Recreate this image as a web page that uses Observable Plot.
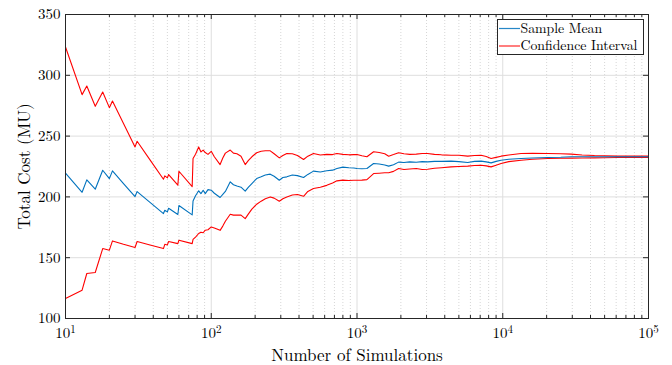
<!DOCTYPE html>
<html><head><meta charset="utf-8">
<script src="https://cdn.jsdelivr.net/npm/d3@7"></script>
<script src="https://cdn.jsdelivr.net/npm/@observablehq/plot@0.6"></script>
<style>
body{margin:0;background:#fff;}
#wrap{position:relative;width:672px;height:365px;color:#000;}
#legend{position:absolute;left:497px;top:16px;overflow:visible;}
</style></head>
<body><div id="wrap"></div>
<script>
const nSim = [10,13,14,16,18,20,21,25,30,31,38,47,48,50,51,59,60,74,75,78,82,85,88,91,95,100,105,115,120,125,135,142,150,160,171,180,190,205,220,235,254,270,293,310,330,360,390,430,460,503,560,620,680,728,800,880,950,1000,1080,1170,1300,1420,1550,1650,1780,1930,2100,2300,2550,2800,3050,3400,3800,4420,5000,5750,6400,7100,7700,8320,9000,9740,11000,13360,16000,20360,25000,29440,35000,42550,50000,61500,75000,88000,100000];
const sampleMean = [219.5,203.8,214,206.3,221.9,215,221.4,211,200.3,204.4,195.5,186.3,189,187.7,190.7,185.5,192.9,185.2,196.7,201,205,202.7,205.5,202.7,206,205.5,203,199.5,202,204.5,212.4,210,209,208,204.7,208,211,215.1,216.5,218,218.7,217,213.7,216,216.5,218,217.5,215.9,218.5,221.2,220.5,221.5,222,223.4,224.5,224,223.8,223.4,223.2,223.4,227.5,227,226.3,225.3,226.5,228.6,228.3,228.8,228.5,229,228.8,229.2,229.2,229.4,229,228.3,229.2,229.4,228.8,228,229.2,230.2,231,231.6,232,232.4,232.6,233,233,233,233,233,233,233,233];
const ciUpper = [323.3,284.1,291.2,274.5,286.3,273.4,278.9,260.4,241.1,245.8,230.5,214.5,217.3,215.6,218.4,209.6,221.1,208.5,231.5,235,241.1,237,238.5,236.5,235,237.5,233,226.6,232,236,238.5,236,235.5,233.5,226.6,230,233,236.3,237.5,238,237.9,235.5,232.1,234,235.7,235.5,234,230.8,233.5,235.7,234.5,235,234.8,235.7,235,234.6,234.8,234.9,233.8,233,237.1,236.5,235.5,233.5,234.8,236.3,235.5,235,235.2,235.7,235.7,235,234.6,234.3,234.2,233.5,234,234.3,233.2,231.6,232.5,233.5,234.5,235.7,235.8,235.7,235.5,235.2,234.5,234,233.8,233.5,233.5,233.5,233.5];
const ciLower = [116.4,123.3,137,137.8,157.5,156.2,163.8,161,158.4,163.3,160.5,157.5,161,160.5,163.3,161.6,164.4,161.6,165,167,169.9,171,170.5,172.6,173,175.3,174.5,172.5,176,180,185.7,185,185,185,182.1,186,190,194,196.5,198.5,200,199,196.4,198.5,200,201.5,202,200.5,204.5,206.9,208,209.5,211.5,213.2,213.8,213.5,213.7,213.7,213.8,214.2,219.2,219.5,219.8,219.8,221,223.4,222.5,223,223.3,222.5,222.8,223.5,224,224.7,225,225.3,225.8,226,225.5,224.7,226,227.5,229,230.2,231,231.6,231.8,231.9,232,232.1,232.2,232.4,232.4,232.4,232.4];

const xMajor = [10,100,1000,10000,100000];
const xTickLabels = ["10^1","10^2","10^3","10^4","10^5"];
const yTicks = [100,150,200,250,300,350];
const xMinor = [];
for (const d of [10,100,1000,10000]) for (let k = 2; k <= 9; k++) xMinor.push(k*d);
const legendNames = ["Sample Mean","Confidence Interval"];
const legendColors = ["#0072bd","#ff0000"];

const data = nSim.map((n,i)=>({n, mean:sampleMean[i], upper:ciUpper[i], lower:ciLower[i]}));

const W=672,H=365,mL=65,mR=24,mT=14,mB=47;
const ph = H-mT-mB;
const axisCol = "#262626";
const serif = "'Latin Modern Roman', 'Liberation Serif', serif";

const chart = Plot.plot({
  width:W, height:H, marginLeft:mL, marginRight:mR, marginTop:mT, marginBottom:mB,
  style:{fontFamily:serif, fontSize:"15px", color:"#000", background:"#fff"},
  x:{type:"log", domain:[10,1e5]},
  y:{domain:[100,350]},
  marks:[
    Plot.gridX(xMinor,{stroke:"#d6d6d6", strokeOpacity:1, strokeDasharray:"1,2"}),
    Plot.gridX(xMajor,{stroke:"#dedede", strokeOpacity:1}),
    Plot.gridY(yTicks,{stroke:"#dedede", strokeOpacity:1}),
    Plot.line(data,{x:"n", y:"upper", stroke:legendColors[1], strokeWidth:1.1}),
    Plot.line(data,{x:"n", y:"lower", stroke:legendColors[1], strokeWidth:1.1}),
    Plot.line(data,{x:"n", y:"mean", stroke:legendColors[0], strokeWidth:1.1}),
    Plot.tickX(xMajor,{x:d=>d, stroke:axisCol, insetTop:ph-5}),
    Plot.tickX(xMajor,{x:d=>d, stroke:axisCol, insetBottom:ph-5}),
    Plot.tickX(xMinor,{x:d=>d, stroke:axisCol, insetTop:ph-3}),
    Plot.tickX(xMinor,{x:d=>d, stroke:axisCol, insetBottom:ph-3}),
    Plot.tickY(yTicks,{y:d=>d, stroke:axisCol, insetRight:(W-mL-mR)-5}),
    Plot.tickY(yTicks,{y:d=>d, stroke:axisCol, insetLeft:(W-mL-mR)-5}),
    Plot.axisX(xMajor,{anchor:"bottom", tickSize:0, tickPadding:9, tickFormat:(d)=>xTickLabels[xMajor.indexOf(d)], fontSize:15, label:"Number of Simulations", labelAnchor:"center", labelArrow:"none", labelOffset:42}),
    Plot.axisY(yTicks,{anchor:"left", tickSize:0, tickPadding:5, fontSize:15, label:"Total Cost (MU)", labelAnchor:"center", labelArrow:"none", labelOffset:48}),
    Plot.frame({stroke:axisCol})
  ]
});

const root = d3.select(chart);
root.style("font-family", serif);
root.selectAll("g").style("font-family", serif);
root.selectAll("text").style("font-family", serif).style("fill","#000").each(function(){
  const t = this.textContent;
  if (t.includes("^")) {
    const [b,e] = t.split("^");
    const s = d3.select(this); s.text(null);
    s.append("tspan").text(b);
    s.append("tspan").attr("dy","-0.45em").style("font-size","11px").text(e);
  }
});
root.selectAll("[aria-label='x-axis label'] text, [aria-label='y-axis label'] text").style("font-size","17px");

const wrap = document.getElementById("wrap");
wrap.appendChild(chart);

// legend (MATLAB-style box, top-right inside axes)
const lg = d3.create("svg").attr("id","legend").attr("width",150).attr("height",42)
  .style("font-family", serif);
lg.append("rect").attr("x",0.5).attr("y",3.5).attr("width",146).attr("height",35)
  .attr("fill","#fff").attr("stroke",axisCol);
legendNames.forEach((name,i)=>{
  const cy = 12.5 + i*17.5;
  lg.append("line").attr("x1",2).attr("x2",23).attr("y1",cy).attr("y2",cy)
    .attr("stroke",legendColors[i]).attr("stroke-width",1.2).attr("stroke-opacity",0.85);
  lg.append("text").attr("x",23.5).attr("y",cy+4.3).style("font-size","13.8px").style("fill","#000").text(name);
});
wrap.appendChild(lg.node());
</script></body></html>
